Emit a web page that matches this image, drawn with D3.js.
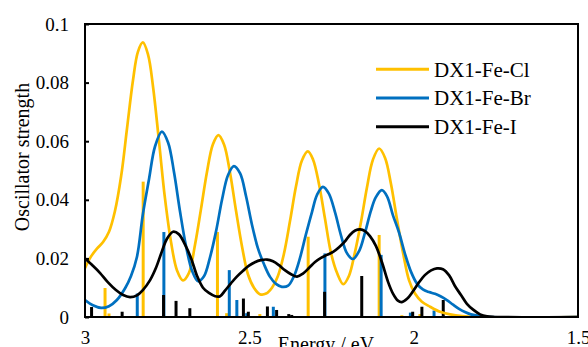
<!DOCTYPE html>
<html>
<head>
<meta charset="utf-8">
<script src="https://cdn.jsdelivr.net/npm/d3@7"></script>
<style>
  html, body { margin: 0; padding: 0; background: #fff; }
  svg { display: block; }
</style>
</head>
<body>
<svg id="chart" width="588" height="347"></svg>
<script>
// Broadened spectra: [energy eV, oscillator strength]
const clCurve = [[3.000,.0167],[2.982,.0206],[2.963,.0234],[2.945,.0256],[2.927,.0291],[2.909,.0361],[2.890,.0481],[2.872,.0645],[2.854,.0808],[2.839,.0905],[2.824,.0937],[2.808,.0895],[2.793,.0786],[2.775,.0601],[2.757,.0408],[2.738,.0254],[2.720,.0159],[2.702,.0125],[2.684,.0150],[2.665,.0248],[2.647,.0369],[2.629,.0494],[2.611,.0589],[2.594,.0621],[2.577,.0589],[2.559,.0494],[2.541,.0366],[2.522,.0239],[2.504,.0145],[2.486,.0100],[2.468,.0078],[2.449,.0080],[2.431,.0100],[2.413,.0140],[2.395,.0214],[2.376,.0329],[2.358,.0446],[2.340,.0534],[2.322,.0565],[2.306,.0537],[2.288,.0453],[2.270,.0337],[2.252,.0221],[2.233,.0150],[2.214,.0112],[2.197,.0140],[2.179,.0219],[2.160,.0326],[2.142,.0443],[2.124,.0537],[2.105,.0575],[2.087,.0543],[2.069,.0454],[2.051,.0335],[2.032,.0217],[2.014,.0125],[1.996,.0080],[1.975,.0052],[1.950,.0035],[1.920,.0018],[1.889,.0009],[1.853,.0003],[1.813,0],[1.5,0]];

const brCurve = [[3.000,.0058],[2.976,.0040],[2.951,.0031],[2.927,.0037],[2.903,.0058],[2.878,.0098],[2.860,.0140],[2.842,.0205],[2.824,.0350],[2.805,.0472],[2.787,.0582],[2.766,.0633],[2.747,.0595],[2.729,.0493],[2.711,.0361],[2.693,.0244],[2.674,.0157],[2.656,.0122],[2.638,.0139],[2.620,.0202],[2.601,.0294],[2.583,.0401],[2.565,.0484],[2.547,.0515],[2.528,.0490],[2.510,.0412],[2.492,.0315],[2.474,.0235],[2.455,.0179],[2.437,.0137],[2.419,.0113],[2.401,.0103],[2.382,.0107],[2.364,.0140],[2.346,.0201],[2.328,.0281],[2.309,.0360],[2.294,.0417],[2.276,.0444],[2.258,.0421],[2.239,.0356],[2.221,.0278],[2.203,.0218],[2.185,.0198],[2.166,.0225],[2.148,.0288],[2.130,.0363],[2.115,.0409],[2.097,.0433],[2.081,.0412],[2.063,.0347],[2.045,.0290],[2.026,.0214],[2.008,.0154],[1.990,.0114],[1.972,.0094],[1.953,.0085],[1.935,.0079],[1.917,.0070],[1.899,.0058],[1.880,.0042],[1.862,.0028],[1.844,.0017],[1.826,.0009],[1.798,.0003],[1.768,0],[1.5,0]];

const iCurve = [[3.000,.0200],[2.979,.0178],[2.954,.0150],[2.930,.0118],[2.906,.0092],[2.884,.0075],[2.863,.0068],[2.842,.0074],[2.824,.0092],[2.802,.0126],[2.784,.0168],[2.766,.0224],[2.751,.0266],[2.732,.0291],[2.714,.0282],[2.696,.0248],[2.677,.0200],[2.659,.0140],[2.641,.0100],[2.623,.0082],[2.604,.0071],[2.589,.0071],[2.574,.0090],[2.556,.0115],[2.538,.0138],[2.519,.0158],[2.501,.0175],[2.483,.0187],[2.465,.0194],[2.446,.0196],[2.428,.0190],[2.410,.0177],[2.392,.0160],[2.373,.0146],[2.355,.0138],[2.337,.0148],[2.318,.0168],[2.300,.0188],[2.282,.0202],[2.264,.0212],[2.245,.0222],[2.227,.0238],[2.209,.0258],[2.194,.0280],[2.178,.0295],[2.163,.0299],[2.148,.0293],[2.133,.0276],[2.115,.0243],[2.096,.0185],[2.078,.0120],[2.063,.0080],[2.048,.0056],[2.036,.0051],[2.020,.0062],[2.002,.0088],[1.984,.0118],[1.966,.0143],[1.947,.0159],[1.929,.0166],[1.911,.0163],[1.892,.0142],[1.874,.0105],[1.856,.0075],[1.838,.0045],[1.819,.0025],[1.798,.0009],[1.777,.0002],[1.753,0],[1.5,0]];

// Individual transitions (sticks): [energy eV, oscillator strength]
const clSticks = [[2.939,.0099],[2.927,.0012],[2.823,.0462],[2.597,.0290],[2.569,.0013],[2.468,.0010],[2.321,.0274],[2.105,.0280],[2.036,.0006],[1.981,.0010]];
const brSticks = [[2.841,.0080],[2.760,.0290],[2.561,.0160],[2.538,.0058],[2.508,.0013],[2.427,.0035],[2.270,.0217],[2.099,.0212],[2.010,.0015],[1.938,.0022]];
const iSticks = [[2.980,.0034],[2.887,.0018],[2.761,.0075],[2.723,.0055],[2.681,.0030],[2.518,.0063],[2.503,.0018],[2.445,.0036],[2.417,.0024],[2.380,.0010],[2.371,.0007],[2.271,.0086],[2.158,.0140],[2.044,.0003],[2.003,.0018],[1.975,.0035],[1.910,.0058]];

const seriesNames = ["DX1-Fe-Cl", "DX1-Fe-Br", "DX1-Fe-I"];
const seriesColors = ["#FFC000", "#0070C0", "#000000"];
const xTicks = [3, 2.5, 2, 1.5];
const yTicks = [0, 0.02, 0.04, 0.06, 0.08, 0.1];

const FONT = '"Liberation Serif"';
const svg = d3.select("#chart");
const plotLeft = 85, plotRight = 578, plotTop = 24, plotBottom = 317;

const x = d3.scaleLinear().domain([3, 1.5]).range([plotLeft, plotRight]);
const y = d3.scaleLinear().domain([0, 0.1]).range([plotBottom, plotTop]);

svg.append("defs").append("clipPath").attr("id", "plot")
  .append("rect").attr("x", plotLeft).attr("y", plotTop)
  .attr("width", plotRight - plotLeft).attr("height", plotBottom - plotTop);

const plot = svg.append("g").attr("clip-path", "url(#plot)");

// sticks first, curves on top
[clSticks, brSticks, iSticks].forEach((sticks, i) => {
  plot.append("g")
    .selectAll("line")
    .data(sticks)
    .join("line")
    .attr("x1", d => x(d[0]))
    .attr("x2", d => x(d[0]))
    .attr("y1", y(0))
    .attr("y2", d => y(d[1]))
    .attr("stroke", seriesColors[i])
    .attr("stroke-width", 3);
});

const line = d3.line()
  .x(d => x(d[0]))
  .y(d => y(d[1]))
  .curve(d3.curveCatmullRom.alpha(0.5));

[clCurve, brCurve, iCurve].forEach((curve, i) => {
  plot.append("path")
    .datum(curve)
    .attr("d", line)
    .attr("fill", "none")
    .attr("stroke", seriesColors[i])
    .attr("stroke-width", 2.7)
    .attr("stroke-linejoin", "round");
});

// y axis, ticks pointing into the plot
const yAxis = svg.append("g")
  .attr("transform", `translate(${plotLeft},0)`)
  .call(d3.axisLeft(y)
    .tickValues(yTicks)
    .tickSizeInner(-4)
    .tickSizeOuter(0)
    .tickPadding(16)
    .tickFormat(d => String(+d.toFixed(2))));
yAxis.attr("font-family", null).attr("font-size", null);
yAxis.select(".domain").remove();
yAxis.selectAll("line").attr("stroke", "#000").attr("stroke-width", 2);
yAxis.selectAll("text")
  .attr("font-family", FONT)
  .attr("font-size", 19)
  .attr("fill", "#000");

const xAxis = svg.append("g")
  .attr("transform", `translate(0,${plotBottom})`)
  .call(d3.axisBottom(x)
    .tickValues(xTicks)
    .tickSize(0)
    .tickPadding(14)
    .tickFormat(d => String(d)));
xAxis.attr("font-family", null).attr("font-size", null);
xAxis.select(".domain").remove();
xAxis.selectAll("text")
  .attr("font-family", FONT)
  .attr("font-size", 19)
  .attr("fill", "#000");

// plot frame
svg.append("rect")
  .attr("x", plotLeft).attr("y", plotTop)
  .attr("width", plotRight - plotLeft).attr("height", plotBottom - plotTop)
  .attr("fill", "none")
  .attr("stroke", "#000")
  .attr("stroke-width", 2);

svg.append("text")
  .attr("transform", "translate(29,157) rotate(-90)")
  .attr("text-anchor", "middle")
  .attr("font-family", FONT)
  .attr("font-size", 20)
  .text("Oscillator strength");

svg.append("text")
  .attr("x", 326).attr("y", 351)
  .attr("text-anchor", "middle")
  .attr("font-family", FONT)
  .attr("font-size", 20)
  .text("Energy / eV");

// legend
const legend = svg.append("g")
  .selectAll("g")
  .data(seriesNames)
  .join("g")
  .attr("transform", (d, i) => `translate(376,${69.3 + i * 28.7})`);
legend.append("line")
  .attr("x1", 0).attr("x2", 53)
  .attr("stroke", (d, i) => seriesColors[i])
  .attr("stroke-width", 3);
legend.append("text")
  .attr("x", 58)
  .attr("dy", "0.35em")
  .attr("font-family", FONT)
  .attr("font-size", 21)
  .text(d => d);
</script>
</body>
</html>
